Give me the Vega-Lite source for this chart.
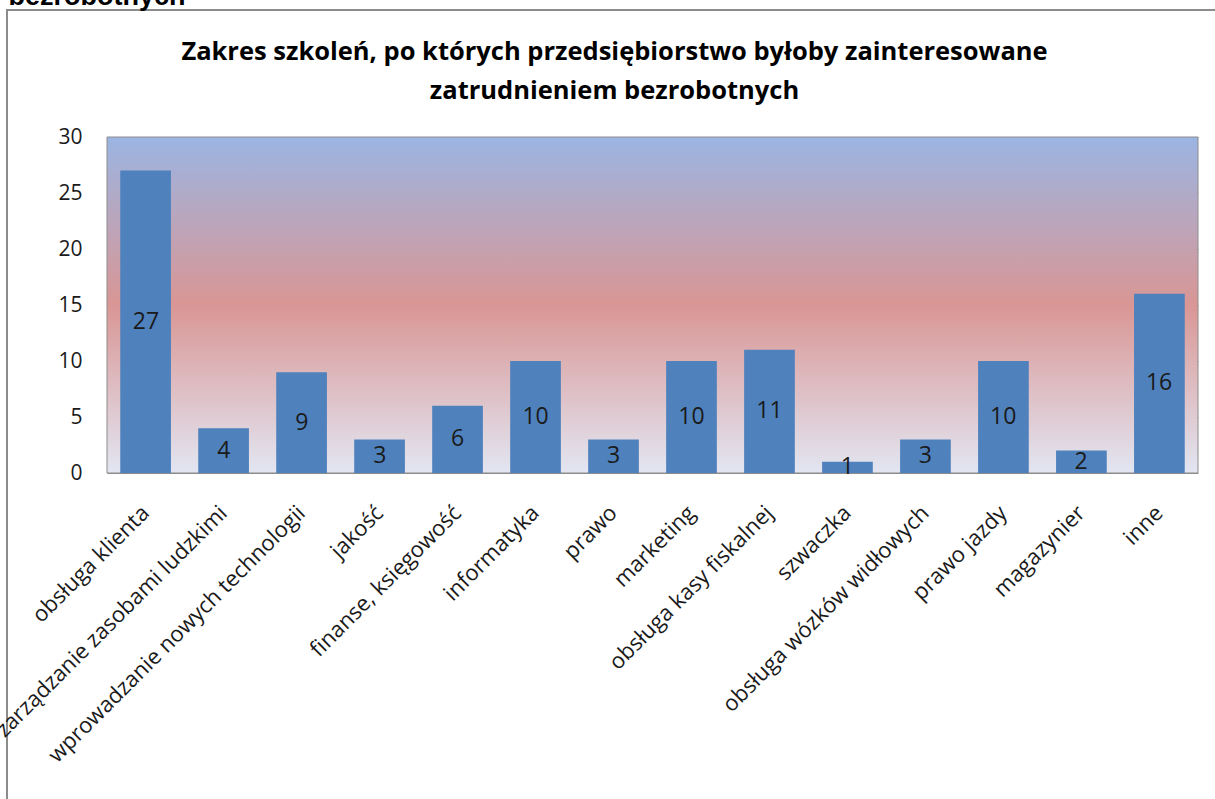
{
  "$schema": "https://vega.github.io/schema/vega-lite/v6.json",
  "width": 1215,
  "height": 800,
  "autosize": {"type": "none"},
  "padding": {"left": 7, "top": 10, "right": 0, "bottom": 0},
  "background": "white",
  "title": {
    "text": ["Zakres szkoleń, po których przedsiębiorstwo byłoby zainteresowane", "zatrudnieniem bezrobotnych"],
    "font": "Open Sans",
    "fontSize": 25.5,
    "fontWeight": "bold",
    "color": "#000000",
    "anchor": "middle",
    "frame": "group",
    "offset": -122,
    "lineHeight": 39
  },
  "config": {
    "view": {"stroke": "#8c8c8c", "strokeWidth": 2},
    "axis": {"labelFont": "Open Sans", "labelColor": "#1a1a1a"}
  },
  "data": {
    "values": [
      {"kategoria": "obsługa klienta", "liczba": 27},
      {"kategoria": "zarządzanie zasobami ludzkimi", "liczba": 4},
      {"kategoria": "wprowadzanie nowych technologii", "liczba": 9},
      {"kategoria": "jakość", "liczba": 3},
      {"kategoria": "finanse, księgowość", "liczba": 6},
      {"kategoria": "informatyka", "liczba": 10},
      {"kategoria": "prawo", "liczba": 3},
      {"kategoria": "marketing", "liczba": 10},
      {"kategoria": "obsługa kasy fiskalnej", "liczba": 11},
      {"kategoria": "szwaczka", "liczba": 1},
      {"kategoria": "obsługa wózków widłowych", "liczba": 3},
      {"kategoria": "prawo jazdy", "liczba": 10},
      {"kategoria": "magazynier", "liczba": 2},
      {"kategoria": "inne", "liczba": 16}
    ]
  },
  "layer": [
    {
      "data": {"values": [{}]},
      "mark": {
        "type": "rect",
        "stroke": "#8c8c8c",
        "strokeWidth": 1,
        "fill": {
          "gradient": "linear",
          "x1": 0, "y1": 0, "x2": 0, "y2": 1,
          "stops": [
            {"offset": 0, "color": "#9BB5E3"},
            {"offset": 0.5, "color": "#D99694"},
            {"offset": 1, "color": "#E2E6F2"}
          ]
        }
      },
      "encoding": {
        "x": {"datum": 0, "type": "quantitative", "scale": {"domain": [0, 1], "range": [100, 1191], "nice": false, "zero": false}, "axis": null},
        "x2": {"datum": 1},
        "y": {"datum": 30, "type": "quantitative", "scale": {"domain": [0, 30], "range": [463, 127], "nice": false}, "axis": null},
        "y2": {"datum": 0}
      }
    },
    {
      "mark": {"type": "bar", "color": "#4F81BD"},
      "encoding": {
        "x": {
          "field": "kategoria",
          "type": "nominal",
          "sort": null,
          "scale": {"range": [100, 1191], "paddingInner": 0.35, "paddingOuter": 0.17},
          "axis": {
            "title": null,
            "orient": "bottom",
            "offset": -337,
            "labelAngle": -45,
            "labelAlign": "right",
            "labelBaseline": "middle",
            "labelFontSize": 22,
            "labelPadding": 36,
            "ticks": false,
            "domain": false,
            "grid": false,
            "labelLimit": 500
          }
        },
        "y": {
          "field": "liczba",
          "type": "quantitative",
          "scale": {"domain": [0, 30], "range": [463, 127], "nice": false},
          "axis": {
            "title": "bezrobotnych",
            "titleAngle": 0,
            "titleAlign": "left",
            "titleBaseline": "alphabetic",
            "titleFont": "Liberation Sans",
            "titleFontWeight": "bold",
            "titleFontSize": 27,
            "titleColor": "#000000",
            "titleX": -99,
            "titleY": -6,
            "orient": "left",
            "offset": -100,
            "values": [0, 5, 10, 15, 20, 25, 30],
            "labelFontSize": 21,
            "labelPadding": 25,
            "ticks": false,
            "domain": false,
            "grid": true,
            "gridColor": "#8c8c8c",
            "gridOpacity": 1
          }
        }
      }
    },
    {
      "mark": {"type": "text", "font": "Open Sans", "fontSize": 23, "color": "#1a1a1a", "baseline": "middle", "align": "center"},
      "encoding": {
        "x": {"field": "kategoria", "type": "nominal", "sort": null, "scale": {"range": [100, 1191], "paddingInner": 0.35, "paddingOuter": 0.17}, "axis": null},
        "y": {"field": "liczba", "type": "quantitative", "scale": {"domain": [0, 60], "range": [463, 127], "nice": false}, "axis": null},
        "text": {"field": "liczba", "type": "quantitative"}
      }
    }
  ],
  "resolve": {"scale": {"x": "independent", "y": "independent"}}
}
